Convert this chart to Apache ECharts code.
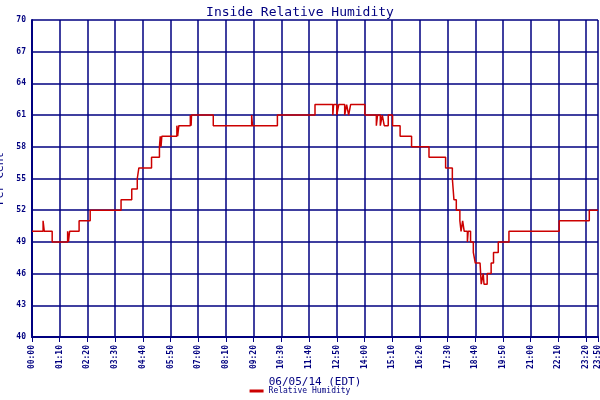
<!DOCTYPE html><html><head><meta charset="utf-8"><script src="https://cdn.jsdelivr.net/npm/echarts@6/dist/echarts.min.js"></script>
<style>html,body{margin:0;background:#fff}#c{width:600px;height:400px}</style></head><body><div id="c"></div><script>
const minutes=[0,28,31,51,90,92,95,119,147,225,252,266,270,291,302,322,324,326,328,333,366,368,371,400,402,403,458,555,557,563,620,715,760,762,770,775,790,795,800,805,841,870,873,880,885,890,900,911,930,959,1003,1045,1062,1064,1066,1068,1072,1081,1084,1088,1092,1096,1100,1102,1108,1115,1120,1132,1135,1140,1142,1150,1160,1166,1178,1205,1332,1408,1430];
const values=[50,51,50,49,50,49,50,51,52,53,54,55,56,56,57,58,59,58,59,59,60,59,60,61,60,61,60,61,60,60,61,62,61,62,61,62,61,62,61,62,61,60,61,60,61,60,61,60,59,58,57,56,55,54,53,53,52,51,50,51,50,50,49,50,49,48,47,47,45,46,45,46,47,48,49,50,51,52,52];
const xLabels=m=>{const h=Math.floor(m/60),mm=m%60;return String(h).padStart(2,'0')+':'+String(mm).padStart(2,'0');};
const navy='#000080',F='DejaVu Sans Mono';
echarts.init(document.getElementById('c')).setOption({
 animation:false,backgroundColor:'#fff',
 title:{text:'Inside Relative Humidity',left:'center',top:1,textStyle:{color:navy,fontFamily:F,fontSize:13,fontWeight:'normal'}},
 grid:{left:32,right:2,top:20,bottom:63,containLabel:false,outerBoundsMode:'none'},
 legend:{bottom:0,left:'center',itemWidth:14,itemHeight:3,icon:'rect',textStyle:{color:navy,fontFamily:F,fontSize:8},data:['Relative Humidity']},
 xAxis:{type:'value',min:0,max:1430,interval:70,name:'06/05/14 (EDT)',nameLocation:'middle',nameGap:40,nameTextStyle:{color:navy,fontFamily:F,fontSize:11},
  axisLine:{lineStyle:{color:navy,width:2}},axisTick:{lineStyle:{color:navy}},
  axisLabel:{rotate:90,color:navy,fontFamily:F,fontSize:8,fontWeight:'bold',formatter:xLabels,showMaxLabel:true,hideOverlap:false},
  splitLine:{lineStyle:{color:navy,width:1.5}}},
 yAxis:{type:'value',min:40,max:70,interval:3,name:'Per Cent',nameLocation:'middle',nameGap:20,nameTextStyle:{color:navy,fontFamily:F,fontSize:11},
  axisLine:{show:true,lineStyle:{color:navy,width:2}},axisTick:{show:false},
  axisLabel:{color:navy,fontFamily:F,fontSize:8,fontWeight:'bold',margin:6},
  splitLine:{lineStyle:{color:navy,width:1.5}}},
 series:[{name:'Relative Humidity',type:'line',step:'end',symbol:'none',color:'#cc0000',lineStyle:{width:1.5,color:'#cc0000'},
  data:minutes.map((m,i)=>[m,values[i]])}]
});
</script></body></html>
